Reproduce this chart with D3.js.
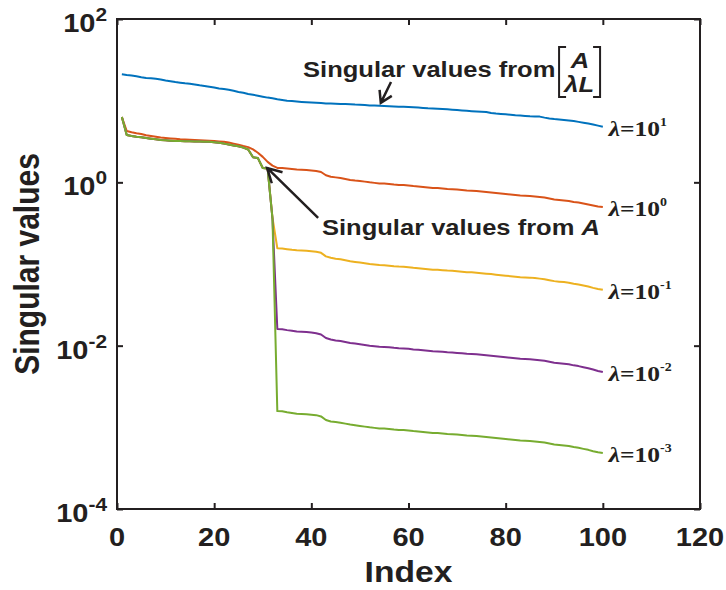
<!DOCTYPE html>
<html>
<head>
<meta charset="utf-8">
<script src="https://cdn.jsdelivr.net/npm/d3@7"></script>
<style>
body { margin: 0; background: #fff; }
svg { display: block; }
text { font-family: "Liberation Sans", Arial, sans-serif; font-weight: bold; fill: #231f20; }
.lam text, text.lam { font-family: "Liberation Serif", "Times New Roman", serif; }
</style>
</head>
<body>
<div id="chart"></div>
<script>
// tick values
var xTicks = [0, 20, 40, 60, 80, 100, 120];
var yTicks = [1e-4, 1e-2, 1e0, 1e2];
var yTickExp = ["-4", "-2", "0", "2"];

// series, index 1..100
var index = d3.range(1, 101);
var lambdaExp = ["1", "0", "-1", "-2", "-3"];
var colors = ["#0072BD", "#D95319", "#EDB120", "#7E2F8E", "#77AC30"];

var lam1 = [21.0,20.6,20.3,19.9,19.4,19.0,18.8,18.5,18.2,17.7,17.3,16.9,16.6,16.3,16.1,15.8,15.4,15.1,14.8,14.5,
  14.1,13.9,13.6,13.2,12.8,12.5,12.1,11.8,11.5,11.2,10.9,10.7,10.4,10.2,10.0,9.88,9.76,9.66,9.58,9.50,
  9.42,9.35,9.25,9.20,9.15,9.10,9.08,9.05,8.96,8.90,8.82,8.75,8.70,8.65,8.60,8.55,8.50,8.45,8.40,8.35,
  8.30,8.22,8.15,8.07,8.02,7.97,7.90,7.84,7.75,7.66,7.58,7.50,7.44,7.38,7.33,7.28,7.05,6.95,6.88,6.80,
  6.72,6.62,6.56,6.50,6.45,6.42,6.38,6.20,6.05,5.95,5.88,5.80,5.72,5.62,5.50,5.38,5.25,5.10,4.95,4.80];

var lam0 = [6.31,4.25,4.10,3.98,3.90,3.78,3.70,3.62,3.55,3.50,3.45,3.41,3.37,3.35,3.32,3.30,3.28,3.26,3.23,3.20,
  3.17,3.14,3.07,2.98,2.88,2.78,2.70,2.53,2.30,2.05,1.78,1.60,1.50,1.50,1.48,1.46,1.44,1.43,1.42,1.40,
  1.38,1.34,1.22,1.17,1.15,1.13,1.10,1.07,1.05,1.04,1.02,1.00,0.985,0.97,0.965,0.955,0.94,0.93,0.925,0.915,
  0.90,0.89,0.877,0.865,0.852,0.85,0.84,0.83,0.825,0.815,0.806,0.795,0.79,0.784,0.773,0.762,0.752,0.741,0.73,0.72,
  0.71,0.70,0.69,0.685,0.681,0.672,0.662,0.652,0.634,0.617,0.608,0.60,0.591,0.574,0.566,0.55,0.535,0.52,0.506,0.499];

var lamM1 = [6.31,3.80,3.70,3.62,3.56,3.48,3.42,3.36,3.30,3.27,3.24,3.21,3.20,3.19,3.18,3.17,3.16,3.15,3.14,3.10,
  3.05,2.98,2.90,2.83,2.76,2.66,2.52,2.03,1.98,1.50,1.48,0.37,0.156,0.155,0.152,0.149,0.147,0.146,0.145,0.143,
  0.141,0.137,0.124,0.119,0.116,0.114,0.111,0.108,0.106,0.104,0.102,0.100,0.0985,0.097,0.0965,0.0955,0.094,0.093,0.0925,0.0915,
  0.090,0.089,0.0877,0.0865,0.0852,0.085,0.084,0.083,0.0825,0.0815,0.0806,0.0795,0.079,0.0784,0.0773,0.0762,0.0752,0.0741,0.073,0.072,
  0.071,0.070,0.069,0.0685,0.0681,0.0672,0.0662,0.0652,0.0634,0.0617,0.0608,0.060,0.0591,0.0574,0.0562,0.0545,0.053,0.051,0.0495,0.0483];

var lamM2 = [6.31,3.80,3.70,3.62,3.56,3.48,3.42,3.36,3.30,3.27,3.24,3.21,3.20,3.19,3.18,3.17,3.16,3.15,3.14,3.10,
  3.05,2.98,2.90,2.83,2.76,2.66,2.52,2.03,1.98,1.50,1.48,0.36,0.0160,0.0159,0.0155,0.0152,0.0149,0.0148,0.0147,0.0145,
  0.0142,0.0137,0.0124,0.0119,0.0116,0.0114,0.0111,0.0108,0.0106,0.0104,0.0102,0.0100,0.00985,0.0097,0.00965,0.00955,0.0094,0.0093,0.00925,0.00915,
  0.0090,0.0089,0.00877,0.00865,0.00852,0.0085,0.0084,0.0083,0.00825,0.00815,0.00806,0.00795,0.0079,0.00784,0.00773,0.00762,0.00752,0.00741,0.0073,0.0072,
  0.0071,0.0070,0.0069,0.00685,0.00681,0.00672,0.00662,0.00652,0.00634,0.00617,0.00608,0.0060,0.00591,0.00574,0.00562,0.00545,0.0053,0.0051,0.0049,0.00476];

var lamM3 = [6.31,3.80,3.70,3.62,3.56,3.48,3.42,3.36,3.30,3.27,3.24,3.21,3.20,3.19,3.18,3.17,3.16,3.15,3.14,3.10,
  3.05,2.98,2.90,2.83,2.76,2.66,2.52,2.03,1.98,1.50,1.48,0.36,0.00158,0.00157,0.00153,0.00150,0.00147,0.00146,0.00145,0.00143,
  0.00141,0.00136,0.00123,0.00118,0.00116,0.00114,0.00111,0.00108,0.00106,0.00104,0.00102,0.00100,0.000985,0.00097,0.000965,0.000955,0.00094,0.00093,0.000925,0.000915,
  0.00090,0.00089,0.000877,0.000865,0.000852,0.00085,0.00084,0.00083,0.000825,0.000815,0.000806,0.000795,0.00079,0.000784,0.000773,0.000762,0.000752,0.000741,0.00073,0.00072,
  0.00071,0.00070,0.00069,0.000685,0.000681,0.000672,0.000662,0.000652,0.000634,0.000617,0.000608,0.00060,0.000591,0.000574,0.000562,0.000545,0.00053,0.00051,0.000495,0.000485];

var series = [lam1, lam0, lamM1, lamM2, lamM3];

// annotations in data coords: [index, value]
var noteTop = { at: [38.3, 19.5], tip: [54.3, 9.4], tail: [56.4, 16.9] };
var noteA = { at: [42.2, 0.226], tip: [30.9, 1.5], tail: [41.4, 0.366] };

var W = 726, H = 590;
var margin = { top: 19, right: 26, bottom: 81, left: 117 };
var stretch = 1.16;   // the source figure is a little wider than tall

var svg = d3.select("#chart").append("svg")
  .attr("width", W).attr("height", H);

var x = d3.scaleLinear().domain([0, 120]).range([margin.left, W - margin.right]);
var y = d3.scaleLog().domain([1e-4, 1e2]).range([H - margin.bottom, margin.top]);

// lines
var line = d3.line()
  .x(function (d, i) { return x(index[i]); })
  .y(function (d) { return y(d); });

svg.selectAll("path.series")
  .data(series)
  .enter().append("path")
  .attr("class", "series")
  .attr("d", line)
  .style("fill", "none")
  .style("stroke", function (d, i) { return colors[i]; })
  .style("stroke-width", 2)
  .style("stroke-linejoin", "round");

// box + inward ticks
var tk = 6;
svg.append("g").attr("transform", "translate(0," + y.range()[0] + ")")
  .call(d3.axisBottom(x).tickValues(xTicks).tickSizeInner(-tk).tickSizeOuter(0).tickFormat(""));
svg.append("g").attr("transform", "translate(0," + y.range()[1] + ")")
  .call(d3.axisTop(x).tickValues(xTicks).tickSizeInner(-tk).tickSizeOuter(0).tickFormat(""));
svg.append("g").attr("transform", "translate(" + x.range()[0] + ",0)")
  .call(d3.axisLeft(y).tickValues(yTicks).tickSizeInner(-tk).tickSizeOuter(0).tickFormat(""));
svg.append("g").attr("transform", "translate(" + x.range()[1] + ",0)")
  .call(d3.axisRight(y).tickValues(yTicks).tickSizeInner(-tk).tickSizeOuter(0).tickFormat(""));
svg.selectAll(".domain").remove();
svg.selectAll(".tick line").style("stroke", "#231f20").style("stroke-width", 2);

svg.append("rect")
  .attr("x", x.range()[0]).attr("y", y.range()[1])
  .attr("width", x.range()[1] - x.range()[0])
  .attr("height", y.range()[0] - y.range()[1])
  .style("fill", "none").style("stroke", "#231f20").style("stroke-width", 2);

// x tick labels
svg.selectAll("text.xt")
  .data(xTicks)
  .enter().append("text")
  .attr("class", "xt")
  .attr("transform", function (d) { return "translate(" + x(d) + "," + (y.range()[0] + 37) + ") scale(" + stretch + ",1)"; })
  .attr("text-anchor", "middle")
  .style("font-size", "25px")
  .text(function (d) { return d; });

// y tick labels, 10 with exponent
var yt = svg.selectAll("text.yt")
  .data(yTicks)
  .enter().append("text")
  .attr("class", "yt")
  .attr("transform", function (d) { return "translate(" + (x.range()[0] - 10) + "," + (y(d) + 13) + ") scale(" + stretch + ",1)"; })
  .attr("text-anchor", "end")
  .style("font-size", "25px");
yt.append("tspan").text("10");
yt.append("tspan").attr("dy", -11).style("font-size", "18px")
  .text(function (d, i) { return yTickExp[i]; });

// axis titles
svg.append("text")
  .attr("transform", "translate(" + ((x.range()[0] + x.range()[1]) / 2) + "," + (H - 8) + ") scale(" + stretch + ",1)")
  .attr("text-anchor", "middle")
  .style("font-size", "29px")
  .text("Index");

svg.append("text")
  .attr("transform", "translate(39," + ((y.range()[0] + y.range()[1]) / 2) + ") rotate(-90) scale(1," + stretch + ")")
  .attr("text-anchor", "middle")
  .style("font-size", "30px")
  .text("Singular values");

// lambda labels at line ends
var lab = svg.selectAll("text.lam")
  .data(series)
  .enter().append("text")
  .attr("class", "lam")
  .attr("transform", function (d) { return "translate(" + (x(101) + 1) + "," + (y(d[d.length - 1]) + 9) + ") scale(" + stretch + ",1)"; })
  .style("font-size", "22px");
lab.append("tspan").style("font-style", "italic").text("\u03bb");
lab.append("tspan").text("=10");
lab.append("tspan").attr("dy", -10).style("font-size", "12px")
  .text(function (d, i) { return lambdaExp[i]; });

// arrows
function arrow(tip, tail, len, ang) {
  var tx = x(tip[0]), ty = y(tip[1]), sx = x(tail[0]), sy = y(tail[1]);
  var a = Math.atan2(sy - ty, sx - tx);
  return "M" + sx + "," + sy + "L" + tx + "," + ty +
    "M" + (tx + len * Math.cos(a + ang)) + "," + (ty + len * Math.sin(a + ang)) +
    "L" + tx + "," + ty +
    "L" + (tx + len * Math.cos(a - ang)) + "," + (ty + len * Math.sin(a - ang));
}
svg.append("path").attr("d", arrow(noteTop.tip, noteTop.tail, 13, 0.55))
  .style("fill", "none").style("stroke", "#231f20").style("stroke-width", 2.5);
svg.append("path").attr("d", arrow(noteA.tip, noteA.tail, 16, 0.5))
  .style("fill", "none").style("stroke", "#231f20").style("stroke-width", 2.5);

// top note: "Singular values from [A; λL]"
var ax = x(noteTop.at[0]), ay = y(noteTop.at[1]);
svg.append("text")
  .attr("transform", "translate(" + ax + "," + ay + ") scale(" + stretch + ",1)")
  .style("font-size", "22px")
  .text("Singular values from");
var mat = svg.append("g").attr("transform", "translate(" + ax + "," + ay + ")");
mat.append("path")
  .attr("d", "M263,-30H256V20H263M290,-30H297V20H290")
  .style("fill", "none").style("stroke", "#231f20").style("stroke-width", 2);
mat.append("text")
  .attr("transform", "translate(277,-9) scale(" + stretch + ",1)")
  .attr("text-anchor", "middle")
  .style("font-size", "22px").style("font-style", "italic")
  .text("A");
mat.append("text")
  .attr("transform", "translate(276,15) scale(" + stretch + ",1)")
  .attr("text-anchor", "middle")
  .style("font-size", "22px").style("font-style", "italic")
  .text("\u03bbL");

// lower note: "Singular values from A"
var bt = svg.append("text")
  .attr("transform", "translate(" + x(noteA.at[0]) + "," + y(noteA.at[1]) + ") scale(" + stretch + ",1)")
  .style("font-size", "22px");
bt.append("tspan").text("Singular values from ");
bt.append("tspan").style("font-style", "italic").text("A");
</script>
</body>
</html>
